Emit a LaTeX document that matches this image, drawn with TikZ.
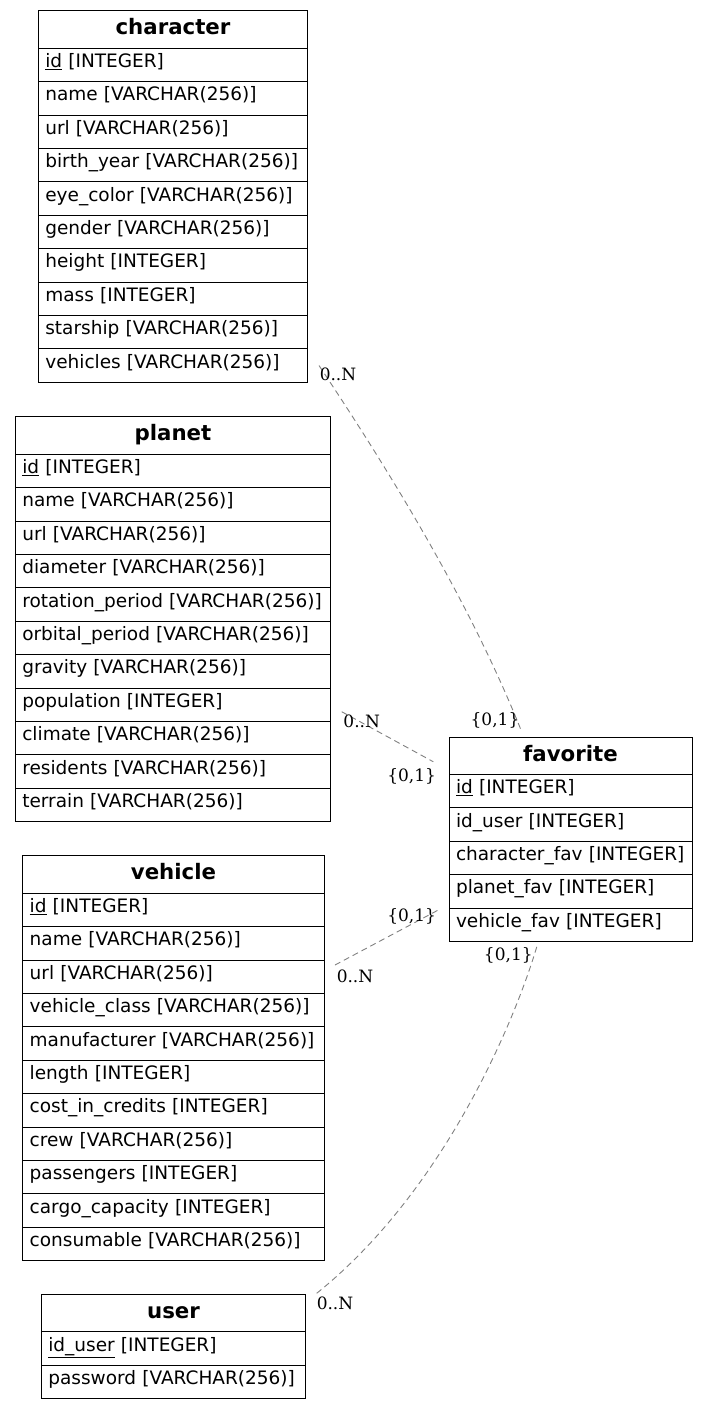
\documentclass[tikz,border=0pt]{standalone}
\usepackage{fontspec}
\setmainfont{DejaVu Sans}
\newfontfamily\cardfont{DejaVu Serif}
\usetikzlibrary{positioning}

\begin{document}
\begin{tikzpicture}[x=1pt, y=-1pt,
    header/.style={draw, line width=1pt, outer sep=0pt, inner sep=0pt, minimum width=#1, minimum height=37.5pt, text height=16pt, text depth=5pt, font=\fontsize{21.3}{25}\selectfont\bfseries},
    field/.style={draw, line width=1pt, outer sep=0pt, inner xsep=7pt, inner ysep=2pt, text width=#1, align=left, minimum height=33.4pt, text height=12pt, text depth=7pt, font=\fontsize{18.5}{22}\selectfont},
    rel/.style={draw=gray, line width=0.9pt, dash pattern=on 6pt off 4pt},
    card/.style={inner sep=0pt, font={\cardfont\fontsize{17}{20}\selectfont}}]
    \useasboundingbox (0,0) rectangle (708,1409);

    % Character
    \node[header=269.4pt, anchor=north west] (character-0) at (38.3,10.7) {character};
    \foreach \f [count=\i] in {\underline{id} [INTEGER], name [VARCHAR(256)], url [VARCHAR(256)], birth\_year [VARCHAR(256)], eye\_color [VARCHAR(256)], gender [VARCHAR(256)], height [INTEGER], mass [INTEGER], starship [VARCHAR(256)], vehicles [VARCHAR(256)]} {
        \pgfmathtruncatemacro\prev{\i-1}
        \node[field=255.4pt, below=0pt of character-\prev] (character-\i) {\f};
    }

    % Planet
    \node[header=315.4pt, anchor=north west] (planet-0) at (15.3,416.7) {planet};
    \foreach \f [count=\i] in {\underline{id} [INTEGER], name [VARCHAR(256)], url [VARCHAR(256)], diameter [VARCHAR(256)], rotation\_period [VARCHAR(256)], orbital\_period [VARCHAR(256)], gravity [VARCHAR(256)], population [INTEGER], climate [VARCHAR(256)], residents [VARCHAR(256)], terrain [VARCHAR(256)]} {
        \pgfmathtruncatemacro\prev{\i-1}
        \node[field=301.4pt, below=0pt of planet-\prev] (planet-\i) {\f};
    }

    % Vehicle
    \node[header=301.6pt, anchor=north west] (vehicle-0) at (22.7,855.7) {vehicle};
    \foreach \f [count=\i] in {\underline{id} [INTEGER], name [VARCHAR(256)], url [VARCHAR(256)], vehicle\_class [VARCHAR(256)], manufacturer [VARCHAR(256)], length [INTEGER], cost\_in\_credits [INTEGER], crew [VARCHAR(256)], passengers [INTEGER], cargo\_capacity [INTEGER], consumable [VARCHAR(256)]} {
        \pgfmathtruncatemacro\prev{\i-1}
        \node[field=287.6pt, below=0pt of vehicle-\prev] (vehicle-\i) {\f};
    }

    % Favorite
    \node[header=243pt, anchor=north west] (favorite-0) at (449,737) {favorite};
    \foreach \f [count=\i] in {\underline{id} [INTEGER], id\_user [INTEGER], character\_fav [INTEGER], planet\_fav [INTEGER], vehicle\_fav [INTEGER]} {
        \pgfmathtruncatemacro\prev{\i-1}
        \node[field=229pt, below=0pt of favorite-\prev] (favorite-\i) {\f};
    }

    % User
    \node[header=264.4pt, anchor=north west] (user-0) at (41.3,1294.3) {user};
    \foreach \f [count=\i] in {\underline{id\_user} [INTEGER], password [VARCHAR(256)]} {
        \pgfmathtruncatemacro\prev{\i-1}
        \node[field=250.4pt, below=0pt of user-\prev] (user-\i) {\f};
    }

    % Relations
    \draw[rel] ([xshift=11.3pt]character-10.east) .. controls +(80,120) and +(-48,-120) .. ([xshift=-49.5pt, yshift=7pt]favorite-0.north)
        node[card, at start, xshift=19pt, yshift=-9pt] {0..N}
        node[card, at end, xshift=-26pt, yshift=10pt] {\{0,1\}};
    \draw[rel] ([xshift=11pt, yshift=-7pt]planet-8.east) -- ([xshift=-15.7pt, yshift=-6pt]favorite-0.west)
        node[card, at start, xshift=20pt, yshift=-10pt] {0..N}
        node[card, at end, xshift=-21.6pt, yshift=-15pt] {\{0,1\}};
    \draw[rel] ([xshift=10.7pt, yshift=11.7pt]vehicle-3.east) -- ([xshift=-10.7pt, yshift=14.8pt]favorite-5.west)
        node[card, at start, xshift=20pt, yshift=-11.7pt] {0..N}
        node[card, at end, xshift=-26.6pt, yshift=-6pt] {\{0,1\}};
    \draw[rel] ([xshift=11pt, yshift=1pt]user-0.north east) .. controls +(128,-103) and +(-22,75) .. ([xshift=-33.2pt, yshift=-3.5pt]favorite-5.south)
        node[card, at start, xshift=18.3pt, yshift=-10pt] {0..N}
        node[card, at end, xshift=-29pt, yshift=-10pt] {\{0,1\}};
\end{tikzpicture}
\end{document}
